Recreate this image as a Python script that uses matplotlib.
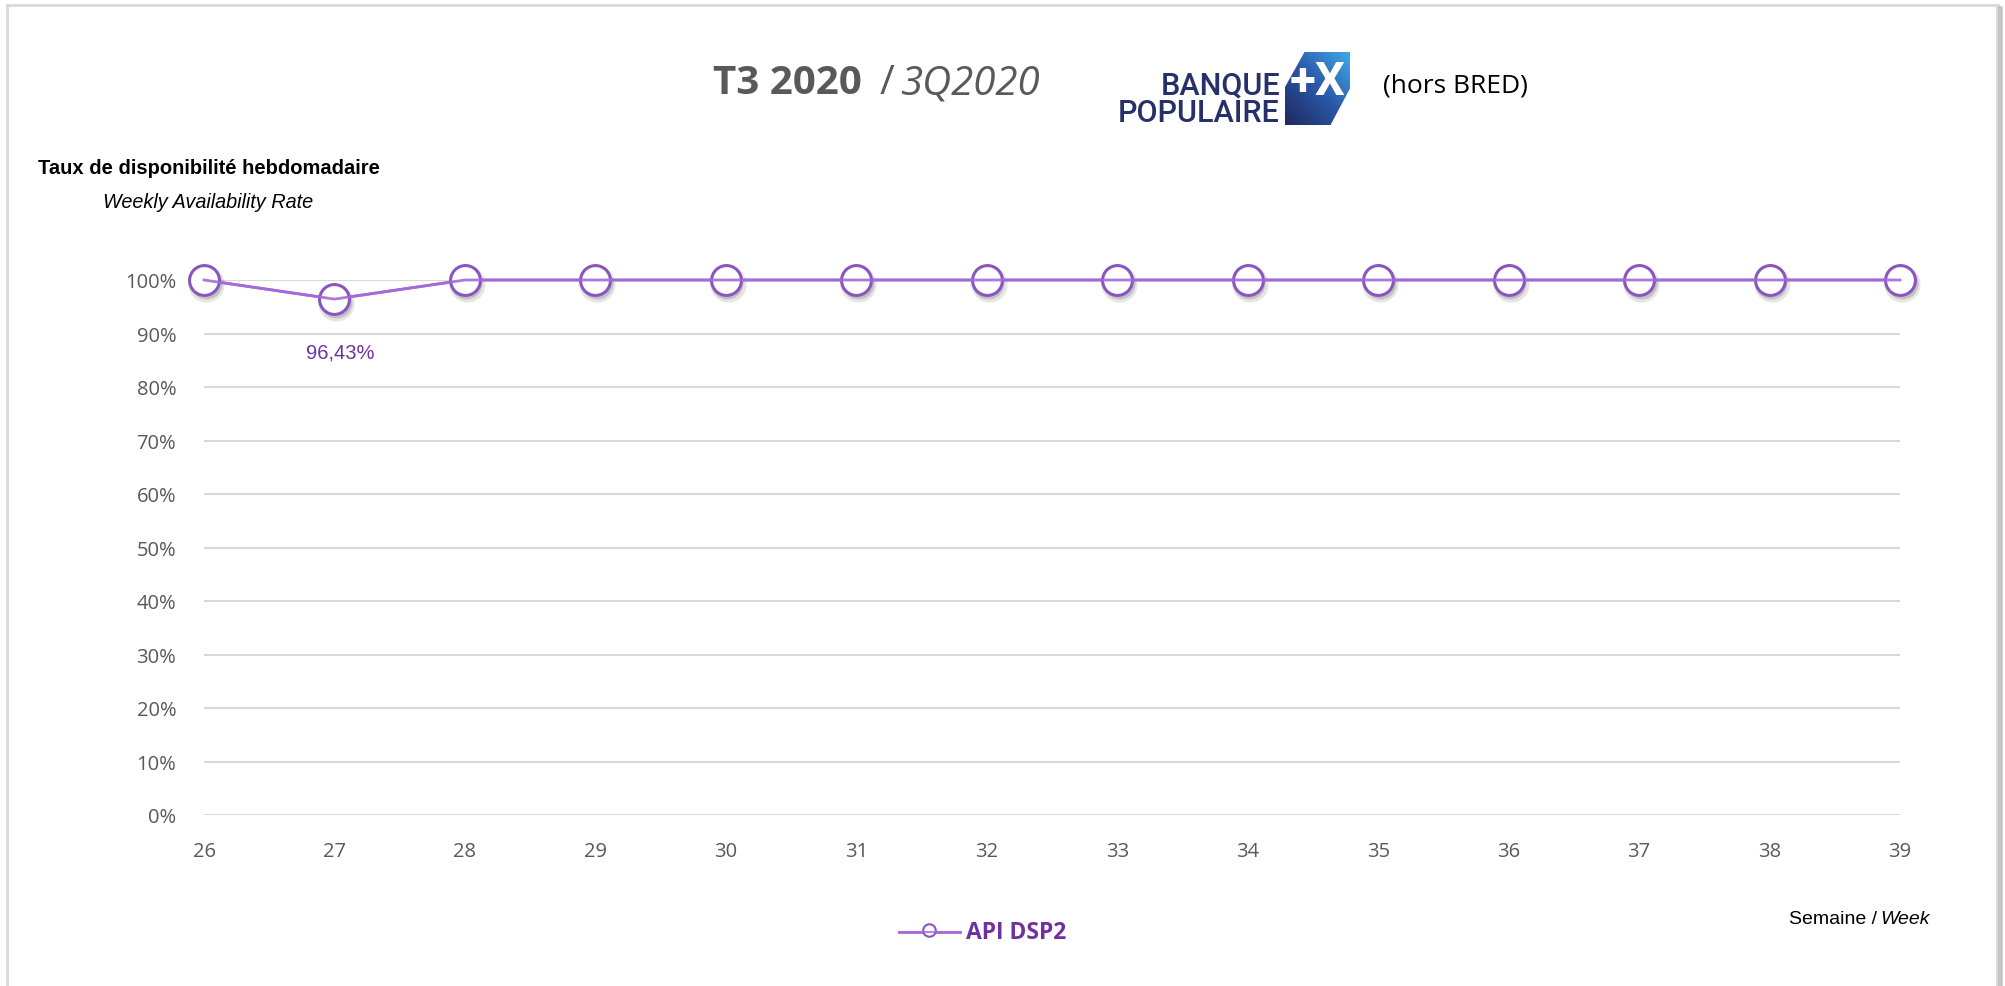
import numpy as np
import matplotlib
matplotlib.use("Agg")
import matplotlib.pyplot as plt
import matplotlib.transforms as mtransforms
from matplotlib.patches import Polygon
from matplotlib.lines import Line2D
from matplotlib.colors import LinearSegmentedColormap

# data
weeks = [26, 27, 28, 29, 30, 31, 32, 33, 34, 35, 36, 37, 38, 39]
api_dsp2 = [1.0, 0.9643, 1.0, 1.0, 1.0, 1.0, 1.0, 1.0, 1.0, 1.0, 1.0, 1.0, 1.0, 1.0]
y_ticks = [0, 0.1, 0.2, 0.3, 0.4, 0.5, 0.6, 0.7, 0.8, 0.9, 1.0]
series_name = "API DSP2"

W, H = 2005, 987
DPI = 100
purple_line = "#A46BD8"
purple_edge = "#8A55C0"
purple_text = "#7030A0"
grey_txt = "#595959"


def fx(px):
    return px / W


def fy(py):
    return 1 - py / H


fig = plt.figure(figsize=(W / DPI, H / DPI), dpi=DPI)
fig.patch.set_facecolor("white")

# chart frame
fig.add_artist(Line2D([fx(7), fx(7)], [fy(6), 0], color="#d9d9d9", lw=2))
fig.add_artist(Line2D([fx(7), fx(1998)], [fy(6), fy(6)], color="#d9d9d9", lw=2))
fig.add_artist(Line2D([fx(2000), fx(2000)], [fy(10), 0], color="#c4c4c4", lw=4))
fig.add_artist(Line2D([fx(1997), fx(1997)], [fy(6), 0], color="#d9d9d9", lw=1.5))

# main axes
ax = fig.add_axes([fx(204), fy(816), fx(1900) - fx(204), fy(281) - fy(816)])
ax.set_xlim(weeks[0], weeks[-1])
ax.set_ylim(0, 1)
ax.set_yticks(y_ticks)
ax.set_yticklabels([f"{int(round(v * 100))}%" for v in y_ticks])
ax.set_xticks(weeks)
ax.set_xticklabels([str(w) for w in weeks])
ax.grid(axis="y", color="#d9d9d9", lw=1.5)
ax.set_axisbelow(True)
for s in ax.spines.values():
    s.set_visible(False)
ax.tick_params(axis="both", length=0, labelsize=14.5, labelcolor=grey_txt)
ax.tick_params(axis="y", pad=20)
ax.tick_params(axis="x", pad=19)
for lbl in ax.get_xticklabels() + ax.get_yticklabels():
    lbl.set_fontfamily("Open Sans")

# marker shadows
for dx, dy, a, ms in [(2, -4, 0.10, 26), (1.5, -3, 0.15, 23)]:
    sh = mtransforms.offset_copy(ax.transData, fig=fig, x=dx, y=dy, units="dots")
    ax.plot(weeks, api_dsp2, ls="none", marker="o", ms=ms, mfc="#000000",
            mec="none", alpha=a, transform=sh, clip_on=False, zorder=3)

ax.plot(weeks, api_dsp2, color=purple_line, lw=2, zorder=4, clip_on=False)
ax.plot(weeks, api_dsp2, ls="none", marker="o", ms=21.5, mfc="white",
        mec=purple_edge, mew=2.2, zorder=5, clip_on=False)
# line drawn over the white fill like the original
ax.plot(weeks, api_dsp2, color=purple_line, lw=2, zorder=6, clip_on=False, alpha=0.9)

# data label on the dip
for w, v in zip(weeks, api_dsp2):
    if v < 1:
        ax.annotate(f"{v * 100:.2f}%".replace(".", ","), (w, v), xytext=(4, -38),
                    textcoords="offset points", ha="center", va="center",
                    fontsize=14.5, color=purple_text, family="Liberation Sans")

# title
fig.text(fx(713), fy(84), "T3 2020", fontsize=29, fontweight="bold", color=grey_txt,
         family="Open Sans", va="center", ha="left")
fig.text(fx(880), fy(84), "/", fontsize=29, color=grey_txt,
         family="Open Sans", va="center", ha="left")
fig.text(fx(900), fy(84), "3Q2020", fontsize=29, style="italic", color=grey_txt,
         family="Open Sans", va="center", ha="left")
fig.text(fx(1383), fy(86), "(hors BRED)", fontsize=19, color="black",
         family="Open Sans", va="center", ha="left")

# logo
navy = "#26306A"
fig.text(fx(1280), fy(86), "BANQUE", fontsize=22, color=navy, family="Roboto",
         fontweight="medium", ha="right", va="center")
fig.text(fx(1280), fy(113), "POPULAIRE", fontsize=22, color=navy, family="Roboto",
         fontweight="medium", ha="right", va="center")
lax = fig.add_axes([fx(1285), fy(126), fx(1350) - fx(1285), fy(53) - fy(126)])
lax.set_xlim(0, 1)
lax.set_ylim(0, 1)
lax.axis("off")
gx, gy = np.meshgrid(np.linspace(0, 1, 50), np.linspace(0, 1, 50))
grad = (gx + gy) / 2
cmap = LinearSegmentedColormap.from_list("bp", ["#1E2A5E", "#2A56A8", "#3FA9E6"])
im = lax.imshow(grad, extent=[0, 1, 0, 1], origin="lower", cmap=cmap, aspect="auto")
hexa = Polygon([(0, 0), (0, 0.52), (0.3, 1), (1, 1), (1, 0.5), (0.7, 0)],
               closed=True, transform=lax.transData, facecolor="none", edgecolor="none")
lax.add_patch(hexa)
im.set_clip_path(hexa)
lax.text(0.5, 0.6, "+X", color="white", fontsize=34, fontweight="bold",
         family="Roboto", ha="center", va="center")

# axis titles
fig.text(fx(38), fy(169), "Taux de disponibilité hebdomadaire", fontsize=14.5,
         fontweight="bold", family="Liberation Sans", va="center", ha="left")
fig.text(fx(103), fy(202), "Weekly Availability Rate", fontsize=14.3, style="italic",
         family="Liberation Sans", va="center", ha="left")
fig.text(fx(1789), fy(920), "Semaine /", fontsize=14, family="Liberation Sans",
         va="center", ha="left")
fig.text(fx(1880), fy(920), "Week", fontsize=14, style="italic",
         family="Liberation Sans", va="center", ha="left")

# legend
fig.add_artist(Line2D([fx(899), fx(960)], [fy(933), fy(933)], color=purple_line, lw=2))
fig.add_artist(Line2D([fx(929)], [fy(931)], marker="o", ms=9, mfc="white",
                      mec=purple_edge, mew=1.5, ls="none"))
fig.add_artist(Line2D([fx(899), fx(960)], [fy(933), fy(933)], color=purple_line, lw=1.5, alpha=0.8))
fig.text(fx(966), fy(933), series_name, fontsize=16.5, fontweight="bold",
         color=purple_text, family="Open Sans", va="center", ha="left")

fig.savefig("out.png", dpi=DPI)
